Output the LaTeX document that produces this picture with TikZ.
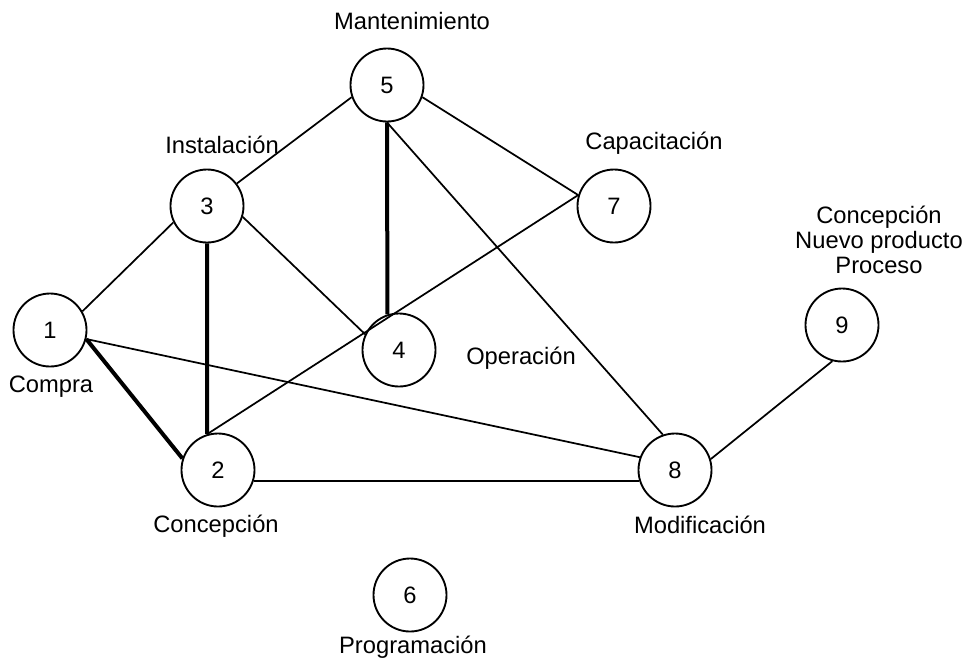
\documentclass[tikz,border=0pt]{standalone}
\usepackage{fontspec}
\setmainfont{Liberation Sans}
\usepackage{tikz}

\begin{document}
\begin{tikzpicture}[x=0.75pt,y=0.75pt,yscale=-1,xscale=1,
	nodo/.style={draw,circle,line width=1.4pt,minimum size=54.75pt,inner sep=0pt,font=\fontsize{17.8}{18.8}\selectfont},
	txt/.style={inner sep=0.75pt,font=\fontsize{17.8}{18.8}\selectfont},
	fino/.style={line width=1.3pt},
	grueso/.style={line width=3pt}]
	%set diagram size
	\useasboundingbox (0,0) rectangle (964,658);
	
	%Shape: Circles
	\node [nodo] (n1) at (50,330) {1};
	\node [nodo] (n2) at (218,470) {2};
	\node [nodo] (n3) at (207,206) {3};
	\node [nodo] (n4) at (399,350) {4};
	\node [nodo] (n5) at (387,85) {5};
	\node [nodo] (n6) at (410,595) {6};
	\node [nodo] (n7) at (614,206) {7};
	\node [nodo] (n8) at (675,470) {8};
	\node [nodo] (n9) at (842,325) {9};
	
	%Straight Lines
	\draw [fino] (n1.30) -- (n3.206);
	\draw [fino] (n1.-14) -- (n8.160);
	\draw [fino] (n3.-17) -- (n4.155);
	\draw [fino] (n3.37) -- (n5.199);
	\draw [fino] (n5.-19) -- (n7.163);
	\draw [fino] (n5.south) -- (n8.109);
	\draw [fino] (n7.163) -- (n2.107);
	\draw [fino] (n2.-17) -- (n8.197);
	\draw [fino] (n8.17) -- (n9.-105);
	%Thick Lines
	\draw [grueso] (n1.-14) -- (n2.162);
	\draw [grueso] (n3.south) -- (n2.107);
	\draw [grueso] (n5.south) -- (n4.108);
	
	% Text Node
	\node [txt] (tMant) at (412,21) {Mantenimiento};
	% Text Node
	\node [txt] (tInst) at (222,145) {Instalación};
	% Text Node
	\node [txt] (tCapa) at (654,143) {Capacitación};
	% Text Node
	\node [txt,align=center] (tNuevo) at (879,240) {Concepción\\[0pt]Nuevo producto\\[0pt]Proceso};
	% Text Node
	\node [txt] (tCompra) at (51,387) {Compra};
	% Text Node
	\node [txt] (tOper) at (521,358) {Operación};
	% Text Node
	\node [txt] (tConc) at (216,526) {Concepción};
	% Text Node
	\node [txt] (tModi) at (700,525) {Modificación};
	% Text Node
	\node [txt] (tProg) at (413,647) {Programación};
	
\end{tikzpicture}
\end{document}
